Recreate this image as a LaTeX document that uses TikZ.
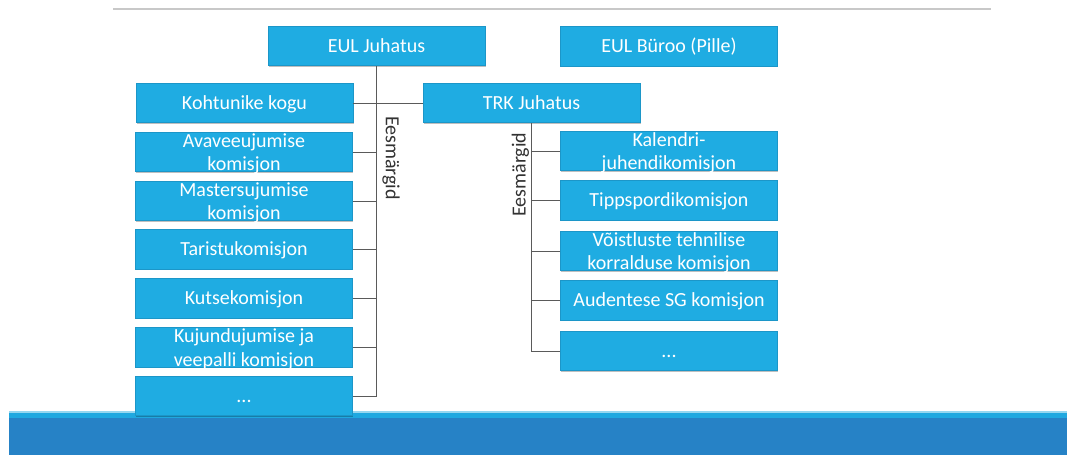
\documentclass[tikz,border=0pt]{standalone}
\usepackage{fontspec}
\setmainfont{Carlito}
\usetikzlibrary{shadows}
\definecolor{boxfill}{RGB}{31,172,226}
\definecolor{boxedge}{RGB}{28,150,200}
\definecolor{connclr}{RGB}{90,90,90}
\definecolor{banddark}{RGB}{38,130,198}
\definecolor{bandmid}{RGB}{31,168,224}
\definecolor{bandlight}{RGB}{150,215,240}
\definecolor{rulegray}{RGB}{200,200,200}
\definecolor{lblclr}{RGB}{50,50,50}
\tikzset{
  orgbox/.style={draw=boxedge, line width=0.6pt, fill=boxfill, text=white,
    minimum width=217pt, minimum height=39.5pt, inner sep=0pt, align=center,
    font=\fontsize{20}{23.5}\selectfont, text height=17pt, text depth=5pt,
    drop shadow={shadow xshift=0.6pt, shadow yshift=-1pt, opacity=0.25, fill=black}},
  twoline/.style={orgbox, text height=38pt, text depth=1pt},
  conn/.style={draw=connclr, line width=1pt},
  goallbl/.style={text=lblclr, inner sep=0pt, font=\fontsize{20}{24}\selectfont}
}
\begin{document}
\begin{tikzpicture}[x=1pt,y=-1pt]
\useasboundingbox (0,0) rectangle (1067,455);
% top rule
\draw[rulegray, line width=1.5pt] (113,9) -- (991,9);
% bottom band
\fill[banddark] (9,418) rectangle (1067,455);
\fill[bandmid] (9,412.5) rectangle (1067,418);
\fill[bandlight] (9,411) rectangle (1067,412.5);
% top level
\node[orgbox] (eul) at (376.5,46) {EUL Juhatus};
\node[orgbox] (buroo) at (669,46.5) {EUL Büroo (Pille)};
\node[orgbox] (kohtu) at (244.5,103) {Kohtunike kogu};
\node[orgbox] (trk) at (531.5,103) {TRK Juhatus};
% left column
\node[twoline] (l1) at (244,152) {Avaveeujumise\\komisjon};
\node[twoline] (l2) at (244,201) {Mastersujumise\\komisjon};
\node[orgbox] (l3) at (244,249.5) {Taristukomisjon};
\node[orgbox] (l4) at (244,298.5) {Kutsekomisjon};
\node[twoline] (l5) at (244,347.5) {Kujundujumise ja\\veepalli komisjon};
\node[orgbox] (l6) at (244,396) {...};
% right column
\node[twoline] (r1) at (669,151) {Kalendri-\\juhendikomisjon};
\node[orgbox] (r2) at (669,200.5) {Tippspordikomisjon};
\node[twoline] (r3) at (669,251) {Võistluste tehnilise\\korralduse komisjon};
\node[orgbox] (r4) at (669,300.5) {Audentese SG komisjon};
\node[orgbox] (r5) at (669,351) {...};
% connectors
\draw[conn] (kohtu.east) -- (trk.west);
\draw[conn] (eul.south) -- (eul.south |- l6.east) -- (l6.east);
\foreach \b in {l1,l2,l3,l4,l5} \draw[conn] (\b.east) -- (\b.east -| eul.south);
\draw[conn] (trk.south) -- (trk.south |- r5.west) -- (r5.west);
\foreach \b in {r1,r2,r3,r4} \draw[conn] (\b.west) -- (\b.west -| trk.south);
% labels
\node[goallbl, rotate=-90] (goalL) at (391,158) {Eesmärgid};
\node[goallbl, rotate=90] (goalR) at (520.5,174.5) {Eesmärgid};
\end{tikzpicture}
\end{document}
